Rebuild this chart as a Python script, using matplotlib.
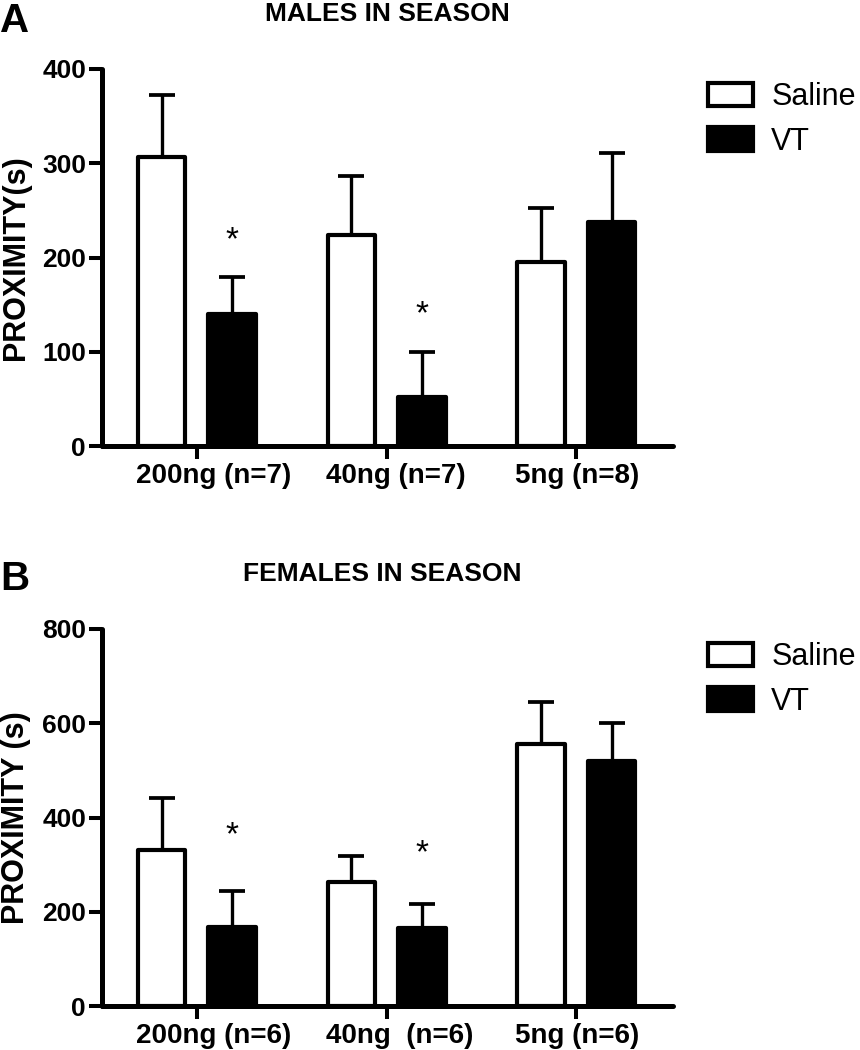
import matplotlib
matplotlib.use('Agg')
import matplotlib.pyplot as plt
import matplotlib.transforms as mtransforms
from matplotlib.patches import Patch
import numpy as np

plt.rcParams['font.family'] = ['Liberation Sans', 'DejaVu Sans']

# panel A - males
doses_m = ['200ng (n=7)', '40ng (n=7)', '5ng (n=8)']
saline_m = [307, 224, 195]
saline_m_err = [65, 63, 58]
vt_m = [140, 52, 238]
vt_m_err = [39, 48, 73]
star_m = [229, 151]   # asterisks over the VT bars, first two doses

# panel B - females
doses_f = ['200ng (n=6)', '40ng  (n=6)', '5ng (n=6)']
saline_f = [331, 263, 555]
saline_f_err = [110, 56, 91]
vt_f = [168, 166, 520]
vt_f_err = [76, 50, 81]
star_f = [384, 346]

fig = plt.figure(figsize=(8.6, 10.5), dpi=100)
axA = fig.add_axes([102/860, 1-446/1050, 571/860, 377/1050])
axB = fig.add_axes([102/860, 1-1006/1050, 571/860, 377/1050])

LW = 3.0
W = 0.25
OFF = 0.186


def draw_panel(ax, labels, sal, sal_err, vt, vt_err, stars, ymax, ystep, ylabel):
    x = np.arange(len(labels))
    ax.bar(x - OFF, sal, W, color='white', edgecolor='black', linewidth=LW,
           joinstyle='round', zorder=3)
    ax.bar(x + OFF, vt, W, color='black', edgecolor='black', linewidth=LW,
           joinstyle='round', zorder=3)
    zero = np.zeros(len(labels))
    ax.errorbar(x - OFF, sal, yerr=[zero, sal_err], fmt='none', ecolor='black',
                elinewidth=2.4, capsize=9.5, capthick=2.7, zorder=2)
    ax.errorbar(x + OFF, vt, yerr=[zero, vt_err], fmt='none', ecolor='black',
                elinewidth=2.4, capsize=9.5, capthick=2.7, zorder=2)
    for i, s in enumerate(stars):
        ax.annotate('*', (x[i] + OFF, s), xytext=(0, -14), textcoords='offset points',
                    ha='center', va='baseline', fontsize=24)

    ax.set_xlim(-0.5, 2.51)
    ax.set_ylim(0, ymax)
    ax.set_yticks(np.arange(0, ymax + 1, ystep))
    ax.set_xticks(x)
    ax.set_xticklabels(labels, ha='left')
    for sp in ['top', 'right']:
        ax.spines[sp].set_visible(False)
    for sp in ['left', 'bottom']:
        ax.spines[sp].set_linewidth(3.6)
        ax.spines[sp].set_capstyle('round')
    ax.tick_params(axis='both', direction='out', length=9.5, width=2.9, labelsize=19, pad=2)
    ax.tick_params(axis='x', labelsize=20, pad=3)
    shift = mtransforms.ScaledTranslation(-61/100, 0, fig.dpi_scale_trans)
    for lab in ax.get_xticklabels():
        lab.set_fontweight('bold')
        lab.set_transform(lab.get_transform() + shift)
    for lab in ax.get_yticklabels():
        lab.set_fontweight('bold')
    ax.set_ylabel(ylabel, fontsize=22, fontweight='bold')
    ax.yaxis.set_label_coords(-0.124, 0.5)


draw_panel(axA, doses_m, saline_m, saline_m_err, vt_m, vt_m_err, star_m, 400, 100, 'PROXIMITY(s)')
draw_panel(axB, doses_f, saline_f, saline_f_err, vt_f, vt_f_err, star_f, 800, 200, 'PROXIMITY (s)')

fig.text(0.0, 1-32/1050, 'A', fontsize=29, fontweight='bold', ha='left', va='baseline')
fig.text(0.0, 1-590/1050, 'B', fontsize=29, fontweight='bold', ha='left', va='baseline')
fig.text(387/860, 1-21/1050, 'MALES IN SEASON', fontsize=19, fontweight='bold',
         ha='center', va='baseline')
fig.text(382/860, 1-581/1050, 'FEMALES IN SEASON', fontsize=19, fontweight='bold',
         ha='center', va='baseline')

handles = [Patch(facecolor='white', edgecolor='black', linewidth=LW, joinstyle='round'),
           Patch(facecolor='black', edgecolor='black', linewidth=LW, joinstyle='round')]
for top in [82, 642]:
    fig.legend(handles, ['Saline', 'VT'], loc='upper left',
               bbox_to_anchor=(708/860, 1-top/1050), frameon=False, fontsize=22,
               handlelength=1.47, handleheight=0.82, handletextpad=0.6,
               labelspacing=0.48, borderpad=0, borderaxespad=0)

fig.savefig('out.png', dpi=100)
